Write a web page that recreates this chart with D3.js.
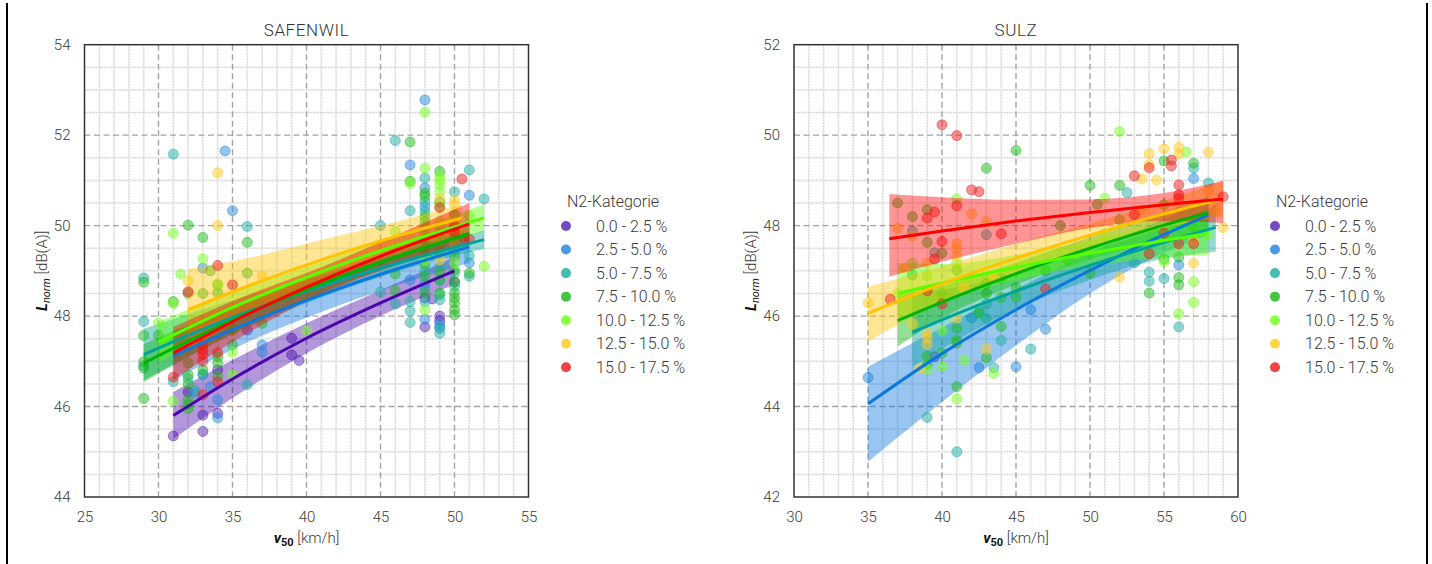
<!DOCTYPE html>
<html>
<head>
<meta charset="utf-8">
<script src="https://cdn.jsdelivr.net/npm/d3@7"></script>
<style>
  body { margin: 0; background: #fff; }
  svg text { font-family: Roboto, "DejaVu Sans", sans-serif; }
</style>
</head>
<body>
<svg id="chart" width="1432" height="564"></svg>
<script>
// ---- categories and colours ----
const categories = ["0.0 - 2.5 %", "2.5 - 5.0 %", "5.0 - 7.5 %", "7.5 - 10.0 %",
                    "10.0 - 12.5 %", "12.5 - 15.0 %", "15.0 - 17.5 %"];
const lineColors = ["#4a06aa", "#0a78dc", "#00a39c", "#00b300", "#55ff00", "#ffc300", "#ff0000"];
const pointColors = ["#5a2ab4", "#2a8ae2", "#22b0a6", "#22bb22", "#77ff22", "#ffcc22", "#ee2222"];

// ---- tick labels ----
const safenwilXTicks = [25, 30, 35, 40, 45, 50, 55];
const safenwilYTicks = [44, 46, 48, 50, 52, 54];
const sulzXTicks = [30, 35, 40, 45, 50, 55, 60];
const sulzYTicks = [42, 44, 46, 48, 50, 52];

// ---- SAFENWIL measurements [v50, Lnorm] per N2 category ----
const safenwilPoints = [
  [[31,45.35],[32,46.32],[33,45.81],[33,45.45],[34,46.81],[34,45.85],[36,47.69],[39,47.51],[39,47.14],
   [39.5,47.02],[48,48.4],[48,47.76],[48.5,48.38],[49,48.0],[49,47.9],[50,48.75]],
  [[32.5,46.3],[33,46.7],[33,49.06],[33.5,46.44],[34,46.15],[34,45.75],[34.5,51.65],[35,50.33],[37,47.36],
   [37,47.2],[47,51.34],[47,48.8],[48,52.78],[48,50.83],[48,50.42],[48,48.73],[48,48.62],[48,47.93],
   [49,47.83],[49,47.73],[50,49.6],[51,50.67],[51,49.18]],
  [[29,48.84],[29,47.88],[29,46.9],[31,51.58],[31,46.55],[32,46.62],[32.5,46.35],[33,46.72],[36,49.98],
   [36,46.48],[45,50.0],[45,48.53],[46,51.88],[46,48.27],[47,50.33],[47,48.32],[47,48.11],[47,47.86],
   [48,51.05],[48,50.53],[48,50.31],[48,49.98],[48,49.54],[48,48.99],[48,48.32],[49,49.98],[49,49.54],
   [49,49.09],[49,48.78],[49,48.47],[49,48.36],[49,47.75],[49,47.62],[50,50.75],[50,50.24],[50,49.47],
   [50,48.95],[50,48.66],[51,51.23],[51,49.34],[51,48.88],[52,50.59]],
  [[29,48.75],[29,47.57],[29,46.99],[29,46.85],[29,46.18],[30,47.58],[31,48.32],[32,50.01],[32,48.5],
   [32,46.96],[32,46.7],[32,46.5],[32,46.15],[32,46.05],[32,45.95],[33,49.74],[33,48.5],[33,46.81],
   [33.5,49.0],[34,48.69],[34,48.52],[34,47.1],[34,46.96],[34,46.67],[35,47.69],[35,47.36],[36,49.63],
   [36,48.95],[37,47.84],[46,48.93],[46,48.56],[47,51.85],[47,50.98],[48,50.72],[48,50.65],[48,50.2],
   [48,50.09],[48,49.83],[48,49.69],[48,49.39],[48,49.13],[48,48.88],[48,48.51],[49,51.2],[49,50.52],
   [49,49.83],[49,49.39],[49,48.96],[49,48.81],[49,48.51],[50,50.24],[50,49.76],[50,49.32],[50,49.02],
   [50,48.76],[50,48.51],[50,48.4],[50,48.29],[50,48.14],[50,48.03],[51,48.95]],
  [[30,47.84],[31,49.83],[31,48.27],[31,46.12],[31.5,48.93],[33,49.26],[34,48.71],[35,46.7],[35,47.2],
   [40,47.68],[46,49.87],[47,50.93],[48,52.51],[48,51.27],[48,49.24],[48,48.14],[49,51.09],[49,51.0],
   [49,50.9],[49,50.75],[49,50.42],[49,50.1],[49,49.69],[50,50.09],[50,49.61],[50,49.17],[51,50.22],[52,49.1]],
  [[32,48.78],[34,51.17],[34,50.0],[37,48.89],[49,50.6],[49,49.24],[50,50.57],[50,50.46]],
  [[31,46.65],[32,48.54],[33,47.36],[33,47.25],[33,47.15],[33,47.0],[33,46.26],[34,49.12],[34,47.19],
   [34,46.55],[35,48.69],[49,50.4],[50,49.98],[50,49.87],[50.5,51.03],[51,49.7]]
];

// ---- SULZ measurements [v50, Lnorm] per N2 category ----
const sulzPoints = [
  [[39.5,45.1]],
  [[35,44.64],[42,45.96],[42.5,44.86],[45,44.88],[46,46.14],[47,45.71],[56,47.13],[57,49.04]],
  [[38,47.88],[39,43.76],[39.5,47.4],[41,43.0],[42.5,46.1],[43,47.8],[43,46.27],[43,45.95],[43.5,44.86],
   [44,45.46],[46,45.27],[52.5,48.73],[53,47.18],[54,46.97],[54,46.77],[55,46.83],[56,45.76],[57,49.27],[58,48.94]],
  [[37,48.5],[38,48.2],[39,48.35],[39,47.63],[40,47.39],[41,47.02],[38,46.91],[39,45.11],[39,44.94],[40,46.5],
   [40,45.18],[41,45.73],[41,45.46],[41,45.4],[41,44.44],[42.5,46.06],[43,49.27],[43,46.72],[43,46.5],[43,45.08],
   [44,46.83],[44,46.41],[44,45.77],[45,49.66],[45,46.63],[45,46.42],[47,47.0],[48,48.0],[48.5,47.24],[50,48.89],
   [50,46.95],[50.5,48.47],[52,48.89],[52,48.13],[54,46.51],[55,49.43],[55,48.46],[55,47.26],[56,47.3],
   [56,46.85],[56,46.69],[57,49.38],[57,47.98]],
  [[37,46.5],[38,47.17],[39,46.9],[39,44.82],[40,45.68],[40,44.88],[41,48.59],[41,47.17],[41,44.17],[41.5,45.03],
   [43.5,44.73],[51,48.61],[51,47.82],[52,50.08],[55,47.2],[56,46.05],[56.5,49.63],[57,46.76],[57,46.3],[58,47.8]],
  [[35,46.29],[37,47.94],[37.5,47.06],[38,47.77],[38,45.83],[38.5,44.84],[39,47.17],[39,45.62],[39,45.52],
   [39,45.37],[41,47.6],[41,47.48],[41,47.32],[41,45.95],[41.5,46.62],[42,48.26],[43,48.09],[43,45.27],
   [43.5,46.86],[52,46.86],[53.5,49.03],[53.5,48.35],[54,49.59],[54,49.35],[54.5,49.01],[55,49.7],[56,49.73],
   [56,49.59],[57,47.67],[57,47.17],[58,49.62],[58,48.76],[58.5,48.35],[59,47.96]],
  [[36.5,46.37],[39,48.17],[39,46.56],[39.5,48.3],[39.5,47.26],[40,50.23],[40,47.65],[40,46.27],[41,49.99],
   [41,48.44],[42,48.79],[42.5,48.75],[44,47.82],[47,46.6],[53,49.1],[53,48.24],[54,49.28],[54,47.38],
   [55,47.83],[55.5,49.45],[55.5,49.32],[56,48.9],[56,48.68],[56,48.6],[56,47.6],[57,47.6],[59,48.64]]
];

// ---- regression curves with confidence band: [v50, fit, lower, upper] ----
const safenwilFits = [
  [[31,45.8,45.28,46.32],[35,46.61,46.19,47.03],[40,47.51,47.18,47.84],[45,48.29,48.01,48.57],[50,49.0,48.7,49.3]],
  [[31,47.12,46.57,47.67],[36,47.84,47.42,48.26],[41,48.47,48.09,48.85],[46,49.03,48.67,49.39],[51,49.53,49.18,49.88]],
  [[29,47.15,46.58,47.72],[35,47.97,47.59,48.35],[41,48.66,48.41,48.91],[47,49.25,49.07,49.43],[52,49.69,49.49,49.89]],
  [[29,46.96,46.54,47.38],[35,47.91,47.61,48.21],[41,48.71,48.51,48.91],[46,49.3,49.15,49.45],[51,49.82,49.66,49.98]],
  [[30,47.42,46.97,47.87],[35,48.19,47.86,48.52],[41,48.98,48.76,49.2],[47,49.66,49.44,49.88],[52,50.17,49.87,50.47]],
  [[32,48.14,47.24,49.04],[36,48.66,48.04,49.28],[41.6,49.31,48.89,49.73],[46,49.76,49.44,50.08],[50.5,50.17,49.87,50.47]],
  [[31,47.18,46.6,47.76],[36,48.04,47.62,48.46],[41,48.78,48.48,49.08],[46,49.45,49.12,49.78],[51,50.04,49.58,50.5]]
];
const sulzFits = [
  null,
  [[35,44.06,42.78,44.88],[40,45.17,44.1,45.75],[45,46.14,45.35,46.6],[50,47.01,46.5,47.4],[55,47.8,47.4,48.15],[58,48.24,47.8,48.6]],
  [[38,45.64,44.88,46.5],[42,46.18,45.65,46.7],[46,46.67,46.3,47.05],[50,47.12,46.8,47.45],[54,47.53,47.2,47.85],[58.5,47.96,47.43,48.45]],
  [[37,45.9,45.33,46.47],[40,46.31,45.95,46.67],[45,46.94,46.7,47.18],[50,47.5,47.25,47.75],[55,48.01,47.7,48.3],[58,48.29,47.9,48.65]],
  [[37,46.5,45.85,47.17],[40,46.73,46.3,47.15],[45,47.08,46.8,47.35],[50,47.39,47.1,47.68],[55,47.67,47.3,48.05],[58,47.83,47.35,48.3]],
  [[35,46.06,45.44,46.65],[40,46.71,46.3,47.1],[45,47.28,46.95,47.6],[50,47.79,47.5,48.05],[55,48.26,47.95,48.55],[59,48.6,48.2,49.0]],
  [[36.44,47.71,46.87,48.7],[40,47.88,47.2,48.63],[45,48.1,47.6,48.57],[50,48.29,47.95,48.58],[55,48.46,48.1,48.72],[59,48.59,48.06,48.99]]
];

const svg = d3.select("#chart");
const plotTop = 44.7, plotBottom = 497;

// frame lines at both page edges
svg.append("line").attr("x1", 7).attr("x2", 7).attr("y1", 3).attr("y2", 564)
  .attr("stroke", "#000").attr("stroke-width", 2);
svg.append("line").attr("x1", 1427).attr("x2", 1427).attr("y1", 3).attr("y2", 564)
  .attr("stroke", "#000").attr("stroke-width", 2);

function drawPanel(cfg) {
  const x = d3.scaleLinear().domain(cfg.xDomain).range([cfg.left, cfg.right]);
  const y = d3.scaleLinear().domain(cfg.yDomain).range([plotBottom, plotTop]);
  const g = svg.append("g");
  const clipId = "clip-" + cfg.id;
  svg.append("clipPath").attr("id", clipId).append("rect")
    .attr("x", cfg.left).attr("y", plotTop)
    .attr("width", cfg.right - cfg.left).attr("height", plotBottom - plotTop);

  // minor grid
  const grid = g.append("g");
  const minorX = d3.range(cfg.xDomain[0] + 1, cfg.xDomain[1], 1).filter(v => v % 5 !== 0);
  const minorY = d3.range(cfg.yDomain[0] + 0.5, cfg.yDomain[1], 0.5).filter(v => Math.abs(v % 2) > 1e-6);
  [["#f0f0f0", 2, null], ["#c9c9c9", 1, "1,1.8"]].forEach(([c, w, dash]) => {
    grid.selectAll(null).data(minorX).join("line")
      .attr("x1", d => x(d)).attr("x2", d => x(d)).attr("y1", plotTop).attr("y2", plotBottom)
      .attr("stroke", c).attr("stroke-width", w).attr("stroke-dasharray", dash);
    grid.selectAll(null).data(minorY).join("line")
      .attr("y1", d => y(d)).attr("y2", d => y(d)).attr("x1", cfg.left).attr("x2", cfg.right)
      .attr("stroke", c).attr("stroke-width", w).attr("stroke-dasharray", dash);
  });
  // major grid
  grid.selectAll(null).data(cfg.xTicks.slice(1, -1)).join("line")
    .attr("x1", d => x(d)).attr("x2", d => x(d)).attr("y1", plotTop).attr("y2", plotBottom)
    .attr("stroke", "#a3a3a3").attr("stroke-width", 1.4).attr("stroke-dasharray", "6,3.5");
  grid.selectAll(null).data(cfg.yTicks.slice(1, -1)).join("line")
    .attr("y1", d => y(d)).attr("y2", d => y(d)).attr("x1", cfg.left).attr("x2", cfg.right)
    .attr("stroke", "#a3a3a3").attr("stroke-width", 1.4).attr("stroke-dasharray", "6,3.5");

  // scatter + confidence band per category
  const marks = g.append("g").attr("clip-path", `url(#${clipId})`);
  const area = d3.area().x(d => x(d[0])).y0(d => y(d[2])).y1(d => y(d[3])).curve(d3.curveMonotoneX);
  const line = d3.line().x(d => x(d[0])).y(d => y(d[1])).curve(d3.curveMonotoneX);
  cfg.points.forEach((pts, i) => {
    marks.append("g").selectAll("circle").data(pts).join("circle")
      .attr("cx", d => x(d[0])).attr("cy", d => y(d[1])).attr("r", 5)
      .attr("fill", pointColors[i]).attr("fill-opacity", 0.5)
      .attr("stroke", pointColors[i]).attr("stroke-opacity", 0.5).attr("stroke-width", 1);
    const fit = cfg.fits[i];
    if (fit) {
      marks.append("path").datum(fit).attr("d", area)
        .attr("fill", lineColors[i]).attr("fill-opacity", 0.42).attr("stroke", "none");
    }
  });
  cfg.fits.forEach((fit, i) => {
    if (!fit) return;
    marks.append("path").datum(fit).attr("d", line)
      .attr("fill", "none").attr("stroke", lineColors[i]).attr("stroke-width", 3);
  });

  // frame
  g.append("rect").attr("x", cfg.left).attr("y", plotTop)
    .attr("width", cfg.right - cfg.left).attr("height", plotBottom - plotTop)
    .attr("fill", "none").attr("stroke", "#333").attr("stroke-width", 1.5);

  // axes
  const xAxis = g.append("g").attr("transform", `translate(0,${plotBottom})`)
    .call(d3.axisBottom(x).tickValues(cfg.xTicks).tickSize(0).tickPadding(14));
  const yAxis = g.append("g").attr("transform", `translate(${cfg.left},0)`)
    .call(d3.axisLeft(y).tickValues(cfg.yTicks).tickSize(0).tickPadding(14));
  [xAxis, yAxis].forEach(a => {
    a.select(".domain").remove();
    a.selectAll("text").attr("font-size", 15).attr("fill", "#3a3a3a")
      .attr("font-family", "Roboto, sans-serif").attr("font-weight", 300);
  });

  const cx = (cfg.left + cfg.right) / 2;
  // title
  g.append("text").attr("x", cx).attr("y", 36).attr("text-anchor", "middle")
    .attr("font-size", 17).attr("fill", "#333").attr("font-weight", 300).attr("letter-spacing", 0.6)
    .text(cfg.title);

  // x label: v50 [km/h]
  const xl = g.append("text").attr("x", cx).attr("y", 543).attr("text-anchor", "middle")
    .attr("font-size", 15).attr("fill", "#3a3a3a");
  xl.append("tspan").attr("font-style", "italic").attr("font-weight", "bold").attr("fill", "#111").text("v");
  xl.append("tspan").attr("font-size", 11).attr("dy", 3).attr("font-weight", "bold").attr("fill", "#111").text("50");
  xl.append("tspan").attr("dy", -3).attr("font-weight", 300).text(" [km/h]");

  // y label: Lnorm [dB(A)]
  const yl = g.append("text")
    .attr("transform", `translate(${cfg.left - 38},${(plotTop + plotBottom) / 2}) rotate(-90)`)
    .attr("text-anchor", "middle").attr("font-size", 15).attr("fill", "#3a3a3a");
  yl.append("tspan").attr("font-style", "italic").attr("font-weight", "bold").attr("fill", "#111").text("L");
  yl.append("tspan").attr("font-style", "italic").attr("font-size", 11).attr("dy", 3).attr("fill", "#111").text("norm");
  yl.append("tspan").attr("dy", -3).attr("font-weight", 300).text(" [dB(A)]");

  // legend
  const lg = g.append("g");
  lg.append("text").attr("x", cfg.legendX + 1).attr("y", 207).attr("font-size", 16)
    .attr("fill", "#3a3a3a").attr("font-weight", 300).text("N2-Kategorie");
  categories.forEach((c, i) => {
    const yy = 226 + i * 23.55;
    lg.append("circle").attr("cx", cfg.legendX).attr("cy", yy).attr("r", 5)
      .attr("fill", pointColors[i]).attr("fill-opacity", 0.85);
    lg.append("text").attr("x", cfg.legendX + 30).attr("y", yy + 5.5).attr("font-size", 16)
      .attr("fill", "#3a3a3a").attr("font-weight", 300).text(c);
  });
}

drawPanel({ id: "safenwil", title: "SAFENWIL", left: 84.5, right: 528.5,
  xDomain: [25, 55], yDomain: [44, 54], xTicks: safenwilXTicks, yTicks: safenwilYTicks,
  points: safenwilPoints, fits: safenwilFits, legendX: 566 });
drawPanel({ id: "sulz", title: "SULZ", left: 794, right: 1238,
  xDomain: [30, 60], yDomain: [42, 52], xTicks: sulzXTicks, yTicks: sulzYTicks,
  points: sulzPoints, fits: sulzFits, legendX: 1275 });
</script>
</body>
</html>
